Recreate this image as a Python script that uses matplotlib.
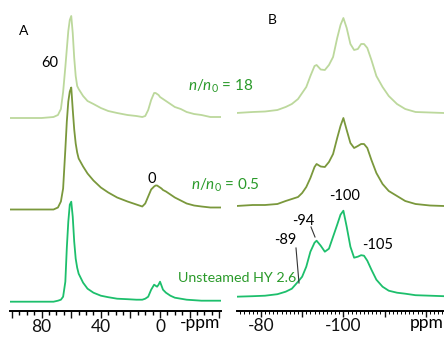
import numpy as np
import matplotlib
matplotlib.use("Agg")
import matplotlib.pyplot as plt
from matplotlib.ticker import MultipleLocator, FixedLocator

plt.rcParams['font.family'] = ['Lato', 'DejaVu Sans']
plt.rcParams['mathtext.fontset'] = 'custom'
plt.rcParams['mathtext.rm'] = 'Lato'
plt.rcParams['mathtext.it'] = 'Lato:italic'

# panel A (27Al), ppm grid and heights above baseline
ppm_a = [101, 90, 80, 72, 69, 67, 65.5, 64, 63, 62, 61, 60, 59, 58, 57, 56, 55, 52, 49, 45, 40,
         35, 29, 22, 16, 12, 10, 8, 6, 4, 3, 2, 1, 0, -1, -2, -4, -7, -10, -14, -18, -23, -28, -34, -42]
a_n18 = [0, 0, 0, 1, 3, 9, 26, 51, 69, 87, 98, 102, 85, 60, 42, 32, 29, 22, 17, 14, 10,
         7, 5, 3, 2, 1, 2, 8, 18, 25, 25, 24, 23, 21, 20, 19, 17, 14, 11, 9, 6, 4, 3, 1, 1]
a_n05 = [0, 0, 0, 0, 2, 8, 21, 60, 88, 108, 118, 122, 100, 80, 66, 57, 51, 43, 36, 29, 22,
         17, 12, 8, 5, 3, 6, 13, 20, 23, 24, 24, 23, 22, 21, 19.5, 18, 15, 12, 9, 6, 4, 3, 2, 2]
a_unst = [0, 0, 0, 0, 1, 2, 5, 20, 54, 80, 97, 100, 85, 60, 43, 34, 28, 19, 13, 9, 6,
          4.5, 3, 2.5, 2, 2, 3, 5, 12, 17, 16, 15, 17, 20, 16, 12, 9, 6, 4, 3, 2, 1.5, 1, 1, 1]

# panel B (29Si)
ppm_b = [-74, -78, -81, -84, -86, -87.5, -89, -90, -91, -92, -93, -93.5, -94.5, -95.5, -96.5,
         -97.5, -98.5, -99.3, -100, -100.8, -101.7, -102.6, -103.5, -104.3, -105, -105.8,
         -106.8, -108, -109.5, -111, -113, -115, -117.5, -121, -124.4]
b_n18 = [0, 1, 1.5, 3, 6, 9, 14, 20, 26, 37, 47, 48, 43.5, 43, 48, 56, 75, 88, 95, 85, 69,
         63, 64, 69, 69, 65, 53, 37, 26, 17, 9, 4, 1, 0.5, 0]
b_n05 = [0, 1, 1, 2, 5, 7, 9, 13, 19, 28, 39, 42, 39.5, 39, 44, 52, 68, 80, 88, 76, 63,
         58, 60, 62, 62, 58, 46, 33, 22, 15, 10, 5, 2, 0.5, 0]
b_unst = [0, 0.5, 1, 2.5, 5, 8, 15, 20, 30, 45, 54, 56, 51, 45, 48, 60, 72, 82, 86, 70, 50,
          39, 40, 41.5, 41, 36, 27, 17, 10, 6, 4, 3, 1.5, 1, 0.5]

c_n18 = '#bcd89c'
c_n05 = '#7a983c'
c_unst = '#1dbf6c'
txt_green = '#2a9a2a'

W, H = 444, 338
fig = plt.figure(figsize=(W / 100, H / 100), dpi=100)
axA = fig.add_axes([10 / W, 27 / H, 211 / W, 311 / H])
axB = fig.add_axes([237 / W, 27 / H, 207 / W, 311 / H])

offA = {'n18': 193, 'n05': 101.5, 'unst': 9.3}
offB = {'n18': 198, 'n05': 105, 'unst': 14.3}

for key, ys, col in [('n18', a_n18, c_n18), ('n05', a_n05, c_n05), ('unst', a_unst, c_unst)]:
    axA.plot(ppm_a, np.array(ys) + offA[key], color=col, lw=1.3, solid_joinstyle='round')
for key, ys, col in [('n18', b_n18, c_n18), ('n05', b_n05, c_n05), ('unst', b_unst, c_unst)]:
    axB.plot(ppm_b, np.array(ys) + offB[key], color=col, lw=1.3, solid_joinstyle='round')

axA.set_xlim(101.4, -41.2)
axB.set_xlim(-74.2, -124.4)
for ax in (axA, axB):
    ax.set_ylim(0, 311)
    ax.set_yticks([])
    for s in ('left', 'right', 'top'):
        ax.spines[s].set_visible(False)
    ax.spines['bottom'].set_linewidth(1.4)
    ax.patch.set_alpha(0)
    ax.tick_params(axis='x', direction='out', labelsize=12.5, pad=1, width=1, colors='#111111')

axA.xaxis.set_major_locator(FixedLocator([100, 80, 60, 40, 20, 0, -20, -40]))
axA.set_xticklabels(['', '80', '', '40', '', '0', '', ''])
axA.xaxis.set_minor_locator(MultipleLocator(5))
axA.tick_params(axis='x', which='major', length=5)
axA.tick_params(axis='x', which='minor', length=3, width=1)

axB.xaxis.set_major_locator(FixedLocator([-80, -90, -100, -110, -120]))
axB.set_xticklabels(['-80', '', '-100', '', ''])
axB.xaxis.set_minor_locator(MultipleLocator(1))
axB.tick_params(axis='x', which='major', length=4)
axB.tick_params(axis='x', which='minor', length=2.5, width=0.7)

def ftext(x, y, s, **kw):
    fig.text(x / W, 1 - y / H, s, va='center', **kw)

ftext(200, 323, '-ppm', ha='center', fontsize=12.5)
ftext(427, 323, 'ppm', ha='center', fontsize=12.5)
ftext(24, 31, 'A', ha='center', fontsize=10)
ftext(272, 20, 'B', ha='center', fontsize=10)
ftext(50, 63, '60', ha='center', fontsize=10.5)
ftext(152, 179, '0', ha='center', fontsize=10.5)
ftext(188, 86, r'$n/n_0$ = 18', ha='left', fontsize=11, color=txt_green)
ftext(191, 185, r'$n/n_0$ = 0.5', ha='left', fontsize=11, color=txt_green)
ftext(178, 278, 'Unsteamed HY 2.6', ha='left', fontsize=10.3, color=txt_green)
ftext(345, 196, '-100', ha='center', fontsize=10.5)
ftext(303, 221, '-94', ha='center', fontsize=10.5)
ftext(285, 240, '-89', ha='center', fontsize=10.5)
ftext(378, 245, '-105', ha='center', fontsize=10.5)

fig.add_artist(plt.Line2D([296 / W, 299 / W], [1 - 248 / H, 1 - 283 / H], color='#333333', lw=0.8))
fig.add_artist(plt.Line2D([311 / W, 315 / W], [1 - 227 / H, 1 - 237 / H], color='#333333', lw=0.8))

fig.savefig('out.png', dpi=100)
